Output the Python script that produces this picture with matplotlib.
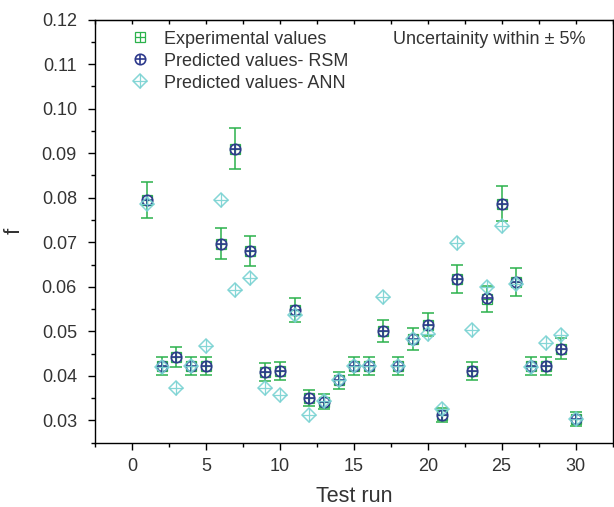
import matplotlib
matplotlib.use('Agg')
import matplotlib.pyplot as plt
from matplotlib.ticker import MultipleLocator
import numpy as np

plt.rcParams['font.family'] = ['Liberation Sans', 'DejaVu Sans']

runs = list(range(1, 31))
experimental = [0.0795, 0.0422, 0.0443, 0.0422, 0.0422, 0.0697, 0.0910, 0.0681, 0.0409, 0.0411,
                0.0548, 0.0350, 0.0342, 0.0390, 0.0422, 0.0422, 0.0501, 0.0422, 0.0483, 0.0515,
                0.0313, 0.0617, 0.0411, 0.0573, 0.0786, 0.0611, 0.0422, 0.0422, 0.0461, 0.0303]
rsm = [0.0795, 0.0422, 0.0443, 0.0422, 0.0422, 0.0697, 0.0910, 0.0681, 0.0409, 0.0411,
       0.0548, 0.0350, 0.0341, 0.0390, 0.0422, 0.0422, 0.0501, 0.0422, 0.0483, 0.0515,
       0.0313, 0.0617, 0.0411, 0.0574, 0.0786, 0.0610, 0.0422, 0.0422, 0.0461, 0.0303]
ann = [0.0785, 0.0421, 0.0373, 0.0422, 0.0467, 0.0795, 0.0593, 0.0619, 0.0373, 0.0356,
       0.0537, 0.0312, 0.0343, 0.0390, 0.0422, 0.0422, 0.0577, 0.0422, 0.0483, 0.0493,
       0.0326, 0.0699, 0.0504, 0.0599, 0.0736, 0.0606, 0.0421, 0.0474, 0.0492, 0.0304]
uncertainty = 0.05  # +/- 5 %

green = '#2BB24C'
navy = '#2E3A8C'
teal = '#78D2D2'
txt = '#333333'

fig = plt.figure(figsize=(6.14, 5.07), dpi=100)
ax = fig.add_axes([0.1547, 0.1268, 0.8429, 0.8347])

exp_arr = np.array(experimental)
ax.errorbar(runs, experimental, yerr=exp_arr * uncertainty, fmt='none', ecolor=green,
            elinewidth=1.1, capsize=4.5, capthick=1.1, zorder=2)
e1, = ax.plot(runs, experimental, 's', ms=6.5, mfc='none', mec=green, mew=0.9, zorder=3)
e2, = ax.plot(runs, experimental, '+', ms=6.5, mec=green, mew=0.9, zorder=3)
r1, = ax.plot(runs, rsm, 'o', ms=7.5, mfc='none', mec=navy, mew=1.2, zorder=4)
r2, = ax.plot(runs, rsm, '+', ms=7.5, mec=navy, mew=1.2, zorder=4)
a1, = ax.plot(runs, ann, 'D', ms=7, mfc='none', mec=teal, mew=1.1, alpha=0.9, zorder=5)
a2, = ax.plot(runs, ann, '+', ms=9.5, mec=teal, mew=0.9, alpha=0.9, zorder=5)

ax.legend([(e1, e2), (r1, r2), (a1, a2)],
          ['Experimental values', 'Predicted values- RSM', 'Predicted values- ANN'],
          loc='upper left', bbox_to_anchor=(0.035, 1.012), frameon=False, fontsize=13,
          handletextpad=0.7, labelspacing=0.28, handlelength=1.2, labelcolor=txt)

ax.text(0.947, 0.952, 'Uncertainity within \u00b1 5%', transform=ax.transAxes,
        ha='right', va='center', fontsize=13, color=txt)

ax.set_xlim(-2.5, 32.5)
ax.set_ylim(0.025, 0.12)
ax.xaxis.set_major_locator(MultipleLocator(5))
ax.xaxis.set_minor_locator(MultipleLocator(2.5))
ax.yaxis.set_major_locator(MultipleLocator(0.01))
ax.yaxis.set_minor_locator(MultipleLocator(0.005))
ax.yaxis.set_major_formatter(plt.FormatStrFormatter('%.2f'))
ax.tick_params(which='major', direction='out', length=5, width=1, labelsize=13,
               labelcolor=txt)
ax.tick_params(axis='x', which='major', pad=6)
ax.tick_params(axis='y', which='major', pad=8)
ax.tick_params(which='minor', direction='out', length=3, width=1)

top = ax.secondary_xaxis('top')
top.xaxis.set_major_locator(MultipleLocator(5))
top.xaxis.set_minor_locator(MultipleLocator(2.5))
top.tick_params(which='both', direction='in', length=3, width=1, labeltop=False)

for s in ax.spines.values():
    s.set_linewidth(1.0)

ax.set_xlabel('Test run', fontsize=15.5, color=txt, labelpad=8)
ax.set_ylabel('f', fontsize=16, color=txt, labelpad=12)

plt.savefig('out.png', dpi=100)
